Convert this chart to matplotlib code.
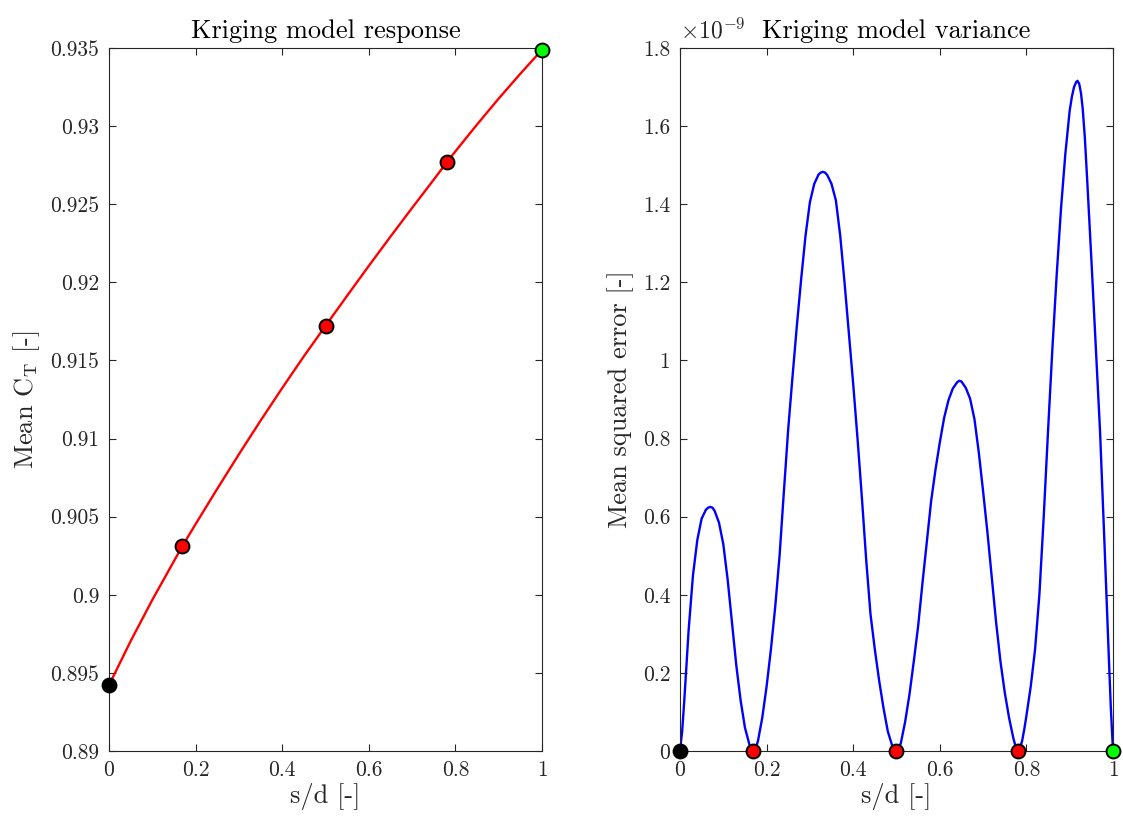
import numpy as np
import matplotlib
matplotlib.use("Agg")
import matplotlib.pyplot as plt
from matplotlib.ticker import FuncFormatter, MultipleLocator

# Sample locations (s/d) and the mean thrust coefficient at each sample
sample_x = [0.0, 0.169, 0.5, 0.781, 1.0]
sample_ct = [0.89422, 0.90310, 0.91722, 0.92772, 0.93489]
sample_colors = ["black", "red", "red", "red", (0.0, 1.0, 0.0)]

# Kriging predictor evaluated along s/d
resp_x = [0.0, 0.05, 0.10, 0.15, 0.169, 0.20, 0.25, 0.30, 0.35, 0.40, 0.45,
          0.50, 0.55, 0.60, 0.65, 0.70, 0.75, 0.781, 0.80, 0.85, 0.90, 0.95, 1.0]
resp_ct = [0.89422, 0.89704, 0.89968, 0.90216, 0.90310, 0.90453, 0.90679,
           0.90900, 0.91115, 0.91324, 0.91527, 0.91722, 0.91915, 0.92106,
           0.92293, 0.92477, 0.92658, 0.92772, 0.92839, 0.93011, 0.93177,
           0.93336, 0.93489]

# Kriging mean squared error along s/d (in units of 1e-9)
mse_scale = 1e-9
mse_x = [0.000, 0.005, 0.01, 0.02, 0.03, 0.04, 0.05, 0.06, 0.065, 0.07, 0.075,
         0.08, 0.09, 0.10, 0.11, 0.12, 0.13, 0.14, 0.15, 0.16, 0.165, 0.169,
         0.175, 0.18, 0.19, 0.20, 0.21, 0.22, 0.23, 0.24, 0.25, 0.26, 0.27,
         0.28, 0.29, 0.30, 0.31, 0.32, 0.325, 0.33, 0.335, 0.34, 0.35, 0.36,
         0.37, 0.38, 0.39, 0.40, 0.41, 0.42, 0.43, 0.44, 0.45, 0.46, 0.47,
         0.48, 0.49, 0.495, 0.50,
         0.505, 0.51, 0.52, 0.53, 0.54, 0.55, 0.56, 0.57, 0.58, 0.59, 0.60,
         0.61, 0.62, 0.63, 0.64, 0.645, 0.65, 0.66, 0.67, 0.68, 0.69, 0.70,
         0.71, 0.72, 0.73, 0.74, 0.75, 0.76, 0.77, 0.775, 0.781,
         0.785, 0.79, 0.795, 0.80, 0.81, 0.82, 0.83, 0.84, 0.85, 0.86, 0.87,
         0.88, 0.89, 0.90, 0.905, 0.91, 0.915, 0.918, 0.922, 0.926, 0.93,
         0.935, 0.94, 0.95, 0.96, 0.97, 0.98, 0.99, 0.995, 1.00]
mse_val = [0.0, 0.05, 0.13, 0.31, 0.45, 0.54, 0.595, 0.618, 0.623, 0.625, 0.623,
           0.615, 0.585, 0.53, 0.44, 0.33, 0.22, 0.13, 0.06, 0.018, 0.005, 0.0,
           0.008, 0.025, 0.085, 0.165, 0.26, 0.37, 0.50, 0.665, 0.825, 0.96, 1.09,
           1.21, 1.32, 1.405, 1.452, 1.476, 1.481, 1.483, 1.481, 1.475, 1.452,
           1.41, 1.32, 1.20, 1.07,
           0.94, 0.80, 0.65, 0.49, 0.35, 0.26, 0.18, 0.11, 0.05, 0.014, 0.004,
           0.0,
           0.005, 0.02, 0.075, 0.145, 0.23, 0.32, 0.43, 0.535, 0.64, 0.72, 0.79,
           0.853, 0.898, 0.928, 0.944, 0.948, 0.946, 0.93, 0.902, 0.85, 0.765,
           0.665, 0.56, 0.445, 0.33, 0.23, 0.15, 0.085, 0.032, 0.012, 0.0,
           0.008, 0.025, 0.055, 0.09, 0.165, 0.26, 0.40, 0.60, 0.82, 1.03, 1.22,
           1.39, 1.53, 1.64, 1.675, 1.70, 1.713, 1.716, 1.708, 1.685, 1.645,
           1.57, 1.47, 1.26, 1.04, 0.82, 0.54, 0.25, 0.11, 0.0]

plt.rcParams.update({
    "font.family": "serif",
    "font.serif": ["cmr10"],
    "mathtext.fontset": "cm",
    "axes.formatter.use_mathtext": True,
    "axes.unicode_minus": False,
})

axis_gray = (0.15, 0.15, 0.15)
tick_fs = 15.5
label_fs = 19
title_fs = 19


def style_axes(ax):
    for sp in ax.spines.values():
        sp.set_color(axis_gray)
        sp.set_linewidth(0.8)
    ax.tick_params(direction="in", length=5, width=0.8, color=axis_gray,
                   labelcolor=axis_gray, labelsize=tick_fs, pad=7,
                   top=True, right=True)


fmt = FuncFormatter(lambda v, _: "%g" % round(v, 6))

fig = plt.figure(figsize=(11.23, 8.18), dpi=100)
ax1 = fig.add_axes([0.0971, 0.0819, 0.3856, 0.8594])
ax2 = fig.add_axes([0.6055, 0.0819, 0.3856, 0.8594])

# Left: kriging response
ax1.plot(resp_x, resp_ct, color="red", lw=1.7, zorder=2)
for x, y, c in zip(sample_x, sample_ct, sample_colors):
    ax1.plot([x], [y], "o", ms=10, mfc=c, mec="black", mew=1.4,
             clip_on=False, zorder=3)
ax1.set_xlim(0, 1)
ax1.set_ylim(0.89, 0.935)
ax1.xaxis.set_major_locator(MultipleLocator(0.2))
ax1.yaxis.set_major_locator(MultipleLocator(0.005))
ax1.xaxis.set_major_formatter(fmt)
ax1.yaxis.set_major_formatter(fmt)
style_axes(ax1)
ax1.set_title("Kriging model response", fontsize=title_fs, pad=7)
ax1.set_xlabel("s/d [-]", fontsize=label_fs, color=axis_gray, labelpad=2)
ax1.set_ylabel(r"Mean C$_\mathrm{T}$ [-]", fontsize=label_fs, color=axis_gray,
               labelpad=6)

# Right: kriging variance
mse = np.array(mse_val) * mse_scale
ax2.plot(mse_x, mse / mse_scale, color="blue", lw=1.7, zorder=2)
for x, c in zip(sample_x, sample_colors):
    ax2.plot([x], [0.0], "o", ms=10, mfc=c, mec="black", mew=1.4,
             clip_on=False, zorder=3)
ax2.set_xlim(0, 1)
ax2.set_ylim(0, 1.8)
ax2.xaxis.set_major_locator(MultipleLocator(0.2))
ax2.yaxis.set_major_locator(MultipleLocator(0.2))
ax2.xaxis.set_major_formatter(fmt)
ax2.yaxis.set_major_formatter(fmt)
style_axes(ax2)
ax2.set_title("Kriging model variance", fontsize=title_fs, pad=7)
ax2.set_xlabel("s/d [-]", fontsize=label_fs, color=axis_gray, labelpad=2)
ax2.set_ylabel("Mean squared error [-]", fontsize=label_fs, color=axis_gray,
               labelpad=6)
ax2.text(0.0, 1.006, r"$\times10^{-9}$", transform=ax2.transAxes,
         fontsize=17, color=axis_gray, ha="left", va="bottom")

fig.savefig("out.png", dpi=100)
